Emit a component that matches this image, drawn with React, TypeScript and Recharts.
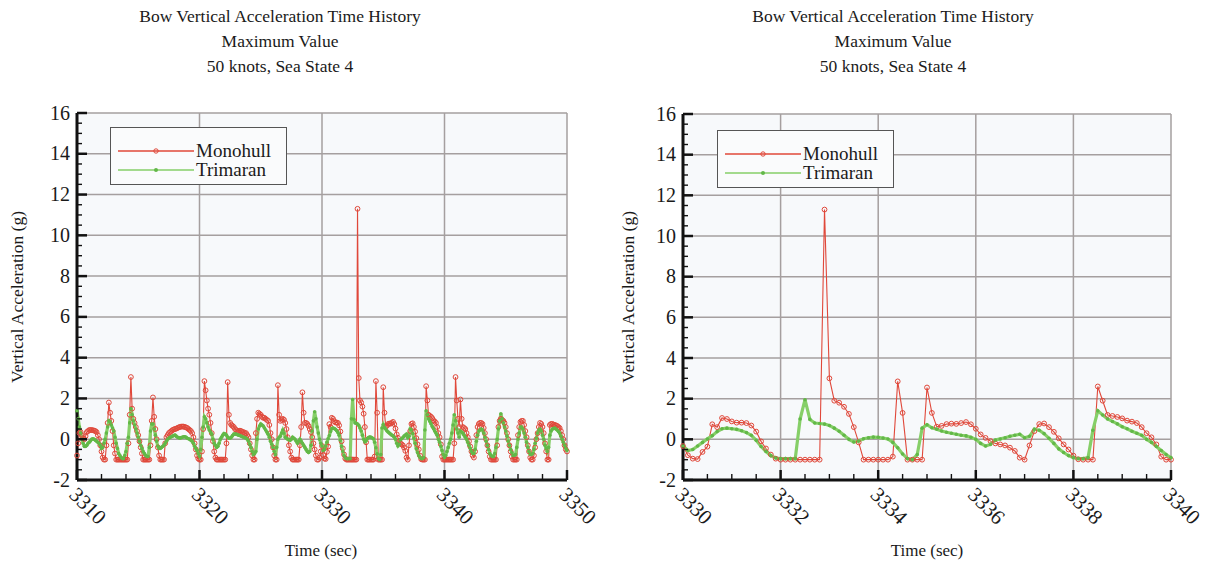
import React from "react";
import { CartesianGrid, Line, LineChart, XAxis, YAxis } from "recharts";

const FONT = '"Liberation Serif", "DejaVu Serif", serif';
const MONO_COLOR = "#e0483a";
const TRI_COLOR = "#86cf68";
const TRI_DOT = "#62b848";

// 3310.0 - 3329.9 s, sampled every 0.1 s (one row per second)
const EARLY_START = 3310;
const EARLY_STEP = 0.1;
const monohullEarly = [
  -0.8, -0.2, 0.3, 0.35, 0.2, 0.05, 0.0, 0.15, 0.35, 0.4,
  0.45, 0.45, 0.45, 0.44, 0.42, 0.4, 0.35, 0.2, 0.0, -0.3,
  -0.6, -0.9, -1.0, -1.0, -0.3, 0.8, 1.8, 1.3, 0.9, 0.4,
  -0.3, -0.7, -1.0, -1.0, -1.0, -1.0, -1.0, -1.0, -1.0, -1.0,
  -1.0, -1.0, -0.2, 1.2, 3.05, 1.5, 1.0, 0.8, 0.6, 0.4,
  0.2, -0.1, -0.4, -0.7, -1.0, -1.0, -1.0, -1.0, -1.0, -1.0,
  -0.3, 0.9, 2.05, 1.1, 0.5, 0.0, -0.4, -0.8, -1.0, -1.0,
  -1.0, -1.0, -0.2, 0.1, 0.2, 0.3, 0.35, 0.4, 0.45, 0.48,
  0.5, 0.52, 0.55, 0.58, 0.6, 0.62, 0.62, 0.62, 0.6, 0.58,
  0.55, 0.5, 0.45, 0.4, 0.3, 0.1, -0.2, -0.5, -0.8, -0.95,
  -1.0, -1.0, -0.6, 0.5, 2.85, 2.4, 1.9, 1.5, 1.2, 0.8,
  0.3, -0.1, -0.6, -0.9, -1.0, -1.0, -1.0, -1.0, -1.0, -1.0,
  -1.0, -1.0, -0.2, 2.8, 1.2, 0.8, 0.7, 0.65, 0.6, 0.5,
  0.45, 0.4, 0.4, 0.42, 0.4, 0.35, 0.35, 0.3, 0.3, 0.2,
  0.1, -0.2, -0.5, -0.8, -1.0, -1.0, 0.3, 1.0, 1.3, 1.25,
  1.2, 1.1, 1.05, 1.05, 1.0, 0.95, 0.9, 0.7, 0.3, 0.0,
  -0.4, -0.8, -1.0, -1.0, 2.65, 1.2, 0.9, 0.95, 1.0, 0.95,
  0.8, 0.5, 0.1, -0.3, -0.6, -0.9, -1.0, -1.0, -1.0, -1.0,
  -1.0, -1.0, -0.3, 0.6, 2.3, 1.3, 0.8, 0.8, 0.75, 0.65,
  0.5, 0.35, 0.1, -0.2, -0.5, -0.8, -1.0, -1.0, -0.9, -0.6,
];
const trimaranEarly = [
  1.4, 1.0, 0.6, 0.3, 0.0, -0.2, -0.35, -0.35, -0.3, -0.2,
  -0.15, -0.08, 0.0, 0.02, 0.0, -0.05, -0.1, -0.15, -0.2, -0.3,
  -0.45, -0.4, -0.2, 0.0, 0.3, 0.6, 0.9, 0.85, 0.7, 0.55,
  0.4, 0.1, -0.2, -0.45, -0.7, -0.8, -0.9, -0.95, -0.95, -0.8,
  -0.6, -0.2, 0.1, 0.8, 1.5, 1.2, 0.9, 0.7, 0.5, 0.3,
  0.1, -0.1, -0.3, -0.45, -0.6, -0.7, -0.8, -0.85, -0.85, -0.4,
  0.4, 0.75, 0.75, 0.5, 0.2, -0.1, -0.35, -0.45, -0.45, -0.4,
  -0.35, -0.3, -0.2, -0.1, 0.0, 0.05, 0.1, 0.12, 0.15, 0.18,
  0.2, 0.15, 0.1, 0.08, 0.05, 0.08, 0.1, 0.12, 0.12, 0.1,
  0.05, 0.02, 0.0, -0.05, -0.1, -0.2, -0.35, -0.45, -0.55, -0.7,
  -0.85, -0.5, 0.1, 0.6, 1.1, 1.0, 0.8, 0.6, 0.45, 0.35,
  0.25, 0.0, -0.2, -0.3, -0.4, -0.35, -0.2, 0.0, 0.1, 0.2,
  0.28, 0.25, 0.2, 0.1, 0.05, 0.05, 0.1, 0.18, 0.25, 0.25,
  0.25, 0.22, 0.2, 0.18, 0.15, 0.12, 0.1, 0.08, 0.05, 0.0,
  -0.1, -0.25, -0.4, -0.6, -0.75, -0.7, -0.6, 0.0, 0.5, 0.65,
  0.75, 0.7, 0.65, 0.55, 0.45, 0.35, 0.25, 0.1, -0.1, -0.25,
  -0.4, -0.6, -0.75, -0.4, 0.0, 0.1, 0.15, 0.3, 0.45, 0.3,
  0.1, 0.05, 0.0, -0.02, -0.05, 0.0, 0.1, 0.05, 0.0, -0.1,
  -0.2, -0.1, 0.0, -0.1, -0.2, -0.3, -0.4, -0.5, -0.6, -0.65,
  -0.6, -0.3, 0.4, 0.9, 1.35, 1.0, 0.6, 0.3, 0.0, -0.2,
];

// 3330.0 - 3340.0 s, sampled every 0.1 s
const ZOOM_START = 3330;
const ZOOM_STEP = 0.1;
const monohullZoom = [
  -0.33, -0.78, -0.95, -0.97, -0.62, -0.36, 0.74, 0.6, 1.05, 1.0,
  0.88, 0.82, 0.82, 0.8, 0.68, 0.38, -0.1, -0.45, -0.75, -0.95,
  -1.0, -1.0, -1.0, -1.0, -1.0, -1.0, -1.0, -1.0, -1.0, 11.3,
  3.0, 1.9, 1.8, 1.6, 1.25, 0.6, -0.15, -1.0, -1.0, -1.0,
  -1.0, -1.0, -1.0, -0.85, 2.85, 1.3, -1.0, -1.0, -1.0, -1.0,
  2.55, 1.3, 0.62, 0.66, 0.75, 0.77, 0.76, 0.8, 0.85, 0.74,
  0.52, 0.24, 0.07, -0.08, -0.2, -0.25, -0.3, -0.41, -0.57, -0.9,
  -1.0, -0.3, 0.4, 0.75, 0.78, 0.6, 0.37, 0.05, -0.25, -0.5,
  -0.8, -0.98, -1.0, -1.0, -1.0, 2.6, 1.9, 1.2, 1.15, 1.1,
  1.03, 0.92, 0.87, 0.8, 0.6, 0.3, 0.1, -0.25, -0.85, -1.0,
  -1.0,
];
const trimaranZoom = [
  -0.33, -0.55, -0.5, -0.33, -0.15, 0.02, 0.18, 0.38, 0.52, 0.55,
  0.52, 0.49, 0.42, 0.33, 0.2, -0.05, -0.35, -0.6, -0.8, -0.92,
  -0.95, -0.95, -0.95, -0.95, 1.0, 1.95, 0.98, 0.8, 0.78, 0.75,
  0.68, 0.55, 0.4, 0.2, 0.0, -0.13, -0.08, 0.03, 0.08, 0.11,
  0.1, 0.06, 0.02, -0.15, -0.42, -0.72, -0.95, -1.0, -0.75, 0.55,
  0.72, 0.57, 0.5, 0.41, 0.35, 0.3, 0.25, 0.2, 0.17, 0.1,
  0.0, -0.2, -0.33, -0.25, -0.03, 0.02, 0.08, 0.15, 0.2, 0.25,
  0.08, 0.15, 0.5, 0.45, 0.28, 0.05, -0.2, -0.47, -0.65, -0.8,
  -0.9, -0.95, -0.95, -0.9, 0.45, 1.4, 1.2, 1.0, 0.88, 0.76,
  0.62, 0.52, 0.4, 0.3, 0.2, 0.0, -0.15, -0.35, -0.55, -0.75,
  -0.9,
];

// 3340.1 - 3350.0 s, sampled every 0.1 s
const LATE_START = 3340.1;
const LATE_STEP = 0.1;
const monohullLate = [
  -1.0, -1.0, -1.0, -1.0, -1.0, -1.0, -1.0, -0.2, 3.05,
  1.9, 1.0, 0.6, 1.95, 1.0, 0.6, 0.55, 0.5, 0.3, 0.1,
  -0.1, -0.35, -0.6, -0.8, -0.9, -0.6, 0.2, 0.6, 0.75, 0.8,
  0.8, 0.75, 0.55, 0.3, 0.0, -0.3, -0.6, -0.85, -1.0, -1.0,
  -1.0, -1.0, -1.0, -0.3, 0.6, 0.9, 1.0, 0.95, 0.9, 0.8,
  0.6, 0.3, 0.0, -0.3, -0.6, -0.85, -1.0, -1.0, -1.0, -1.0,
  0.2, 0.6, 0.85, 0.9, 0.9, 0.7, 0.4, 0.1, -0.3, -0.6,
  -0.9, -1.0, -1.0, -0.8, -0.4, 0.0, 0.3, 0.6, 0.8, 0.75,
  0.6, 0.3, -0.2, -0.6, -1.0, -1.0, 0.7, 0.75, 0.75, 0.72,
  0.7, 0.68, 0.65, 0.6, 0.55, 0.4, 0.2, 0.0, -0.3, -0.5,
  -0.6,
];
const trimaranLate = [
  -0.8, -0.6, -0.4, -0.2, 0.0, 0.3, 0.7, 1.2, 0.9,
  0.5, 0.3, 0.1, 0.4, 0.35, 0.3, 0.2, 0.1, 0.0, -0.15,
  -0.3, -0.45, -0.6, -0.7, -0.7, -0.5, -0.1, 0.2, 0.4, 0.45,
  0.5, 0.45, 0.3, 0.1, -0.1, -0.3, -0.5, -0.7, -0.8, -0.85,
  -0.85, -0.7, -0.4, 0.0, 0.5, 0.9, 1.25, 1.0, 0.8, 0.6,
  0.4, 0.15, -0.1, -0.3, -0.5, -0.65, -0.8, -0.8, -0.75, -0.4,
  0.0, 0.3, 0.6, 0.6, 0.5, 0.3, 0.1, -0.15, -0.4, -0.6,
  -0.75, -0.75, -0.7, -0.5, -0.2, 0.05, 0.3, 0.45, 0.5, 0.4,
  0.2, 0.0, -0.3, -0.45, -0.6, -0.4, 0.2, 0.4, 0.5, 0.52,
  0.55, 0.5, 0.45, 0.38, 0.3, 0.15, 0.0, -0.15, -0.3, -0.45,
  -0.55,
];

const Y_MAJOR = [-2, 0, 2, 4, 6, 8, 10, 12, 14, 16];
const WIDE_X_MAJOR = [3310, 3320, 3330, 3340, 3350];
const ZOOM_X_MAJOR = [3330, 3332, 3334, 3336, 3338, 3340];

const TITLE_LINES = [
  "Bow Vertical Acceleration Time History",
  "Maximum Value",
  "50 knots, Sea State 4",
];

const SERIES = [
  { key: "monohull", name: "Monohull", color: MONO_COLOR },
  { key: "trimaran", name: "Trimaran", color: TRI_COLOR },
];

type Row = { t: number; monohull: number; trimaran: number };

function toRows(start: number, step: number, mono: number[], tri: number[]): Row[] {
  return mono.map((m, i) => ({
    t: Math.round((start + i * step) * 100) / 100,
    monohull: m,
    trimaran: tri[i],
  }));
}

const zoomRows = toRows(ZOOM_START, ZOOM_STEP, monohullZoom, trimaranZoom);
const wideRows = [
  ...toRows(EARLY_START, EARLY_STEP, monohullEarly, trimaranEarly),
  ...zoomRows,
  ...toRows(LATE_START, LATE_STEP, monohullLate, trimaranLate),
];

// major ticks plus evenly spaced minor ticks between them
function withMinor(major: number[], parts: number) {
  const out: number[] = [];
  for (let i = 0; i < major.length - 1; i++) {
    const step = (major[i + 1] - major[i]) / parts;
    for (let k = 0; k < parts; k++) out.push(major[i] + k * step);
  }
  out.push(major[major.length - 1]);
  return out;
}

// ticks point into the plot; only majors get a label
function XTick(props: any) {
  const { x, y, payload, majors } = props;
  const major = majors.includes(payload.value);
  const lx = x - 9;
  const ly = y + 16;
  return (
    <g>
      <line x1={x} y1={y} x2={x} y2={y - (major ? 10 : 6)} stroke="#111" strokeWidth={major ? 2.5 : 1.4} />
      {major && (
        <text
          x={lx}
          y={ly}
          transform={`rotate(45 ${lx} ${ly})`}
          fontSize={21}
          fontFamily={FONT}
          fill="#1a1a1a"
          textAnchor="start"
        >
          {payload.value}
        </text>
      )}
    </g>
  );
}

function YTick(props: any) {
  const { x, y, payload, majors } = props;
  const major = majors.includes(payload.value);
  return (
    <g>
      <line x1={x} y1={y} x2={x + (major ? 10 : 5)} y2={y} stroke="#111" strokeWidth={major ? 2.5 : 1.4} />
      {major && (
        <text x={x - 7} y={y} dy="0.33em" fontSize={20} fontFamily={FONT} fill="#1a1a1a" textAnchor="end">
          {payload.value}
        </text>
      )}
    </g>
  );
}

function AccelChart({
  rows,
  xMajor,
  xParts,
  width,
  margin,
}: {
  rows: Row[];
  xMajor: number[];
  xParts: number;
  width: number;
  margin: { top: number; right: number; bottom: number; left: number };
}) {
  const xTicks = withMinor(xMajor, xParts);
  const yTicks = withMinor(Y_MAJOR, 4);
  return (
    <LineChart width={width} height={564} data={rows} margin={margin}>
      <CartesianGrid
        horizontalValues={Y_MAJOR}
        verticalValues={xMajor}
        stroke="#a59f9f"
        strokeWidth={1.5}
        fill="#f7f9fb"
      />
      <XAxis
        dataKey="t"
        type="number"
        domain={[xMajor[0], xMajor[xMajor.length - 1]]}
        ticks={xTicks}
        interval={0}
        tickSize={0}
        tickMargin={0}
        tickLine={false}
        height={40}
        axisLine={{ stroke: "#111", strokeWidth: 3 }}
        tick={(p: any) => <XTick {...p} majors={xMajor} />}
      />
      <YAxis
        type="number"
        domain={[-2, 16]}
        ticks={yTicks}
        interval={0}
        tickSize={0}
        tickMargin={0}
        tickLine={false}
        width={60}
        axisLine={{ stroke: "#111", strokeWidth: 3 }}
        tick={(p: any) => <YTick {...p} majors={Y_MAJOR} />}
      />
      <Line
        type="linear"
        dataKey="monohull"
        stroke={MONO_COLOR}
        strokeWidth={1.1}
        dot={{ r: 2.4, fill: "none", stroke: MONO_COLOR, strokeWidth: 1 }}
        activeDot={false}
        isAnimationActive={false}
      />
      <Line
        type="linear"
        dataKey="trimaran"
        stroke={TRI_COLOR}
        strokeWidth={3.2}
        dot={{ r: 1.8, fill: TRI_DOT, stroke: "none" }}
        activeDot={false}
        isAnimationActive={false}
      />
    </LineChart>
  );
}

function LegendBox({ left, top }: { left: number; top: number }) {
  return (
    <div
      style={{
        position: "absolute",
        left,
        top,
        width: 177,
        height: 58,
        border: "1.5px solid #555",
        background: "#fafbfc",
        boxSizing: "border-box",
      }}
    >
      {SERIES.map((s, i) => (
        <div
          key={s.key}
          style={{ position: "absolute", left: 7, top: 13 + i * 19, height: 19, display: "flex", alignItems: "center" }}
        >
          <svg width={76} height={10} style={{ display: "block" }}>
            <line x1={0} y1={5} x2={76} y2={5} stroke={s.color} strokeWidth={1.4} />
            {s.key === "monohull" ? (
              <circle cx={38} cy={5} r={2.2} fill="none" stroke={s.color} strokeWidth={1} />
            ) : (
              <circle cx={38} cy={5} r={2} fill={TRI_DOT} />
            )}
          </svg>
          <span style={{ fontSize: 19, lineHeight: "19px", marginLeft: 2 }}>{s.name}</span>
        </div>
      ))}
    </div>
  );
}

function Title({ cx }: { cx: number }) {
  return (
    <div
      style={{
        position: "absolute",
        left: cx - 200,
        top: 4,
        width: 400,
        textAlign: "center",
        fontSize: 17.5,
        lineHeight: "25px",
      }}
    >
      {TITLE_LINES.map((l) => (
        <div key={l}>{l}</div>
      ))}
    </div>
  );
}

function AxisTitles({ yx, xx }: { yx: number; xx: number }) {
  return (
    <>
      <div
        style={{
          position: "absolute",
          left: yx,
          top: 297,
          transform: "translate(-50%, -50%) rotate(-90deg)",
          whiteSpace: "nowrap",
          fontSize: 17.5,
        }}
      >
        Vertical Acceleration (g)
      </div>
      <div
        style={{
          position: "absolute",
          left: xx,
          top: 551,
          transform: "translate(-50%, -50%)",
          whiteSpace: "nowrap",
          fontSize: 17,
        }}
      >
        Time (sec)
      </div>
    </>
  );
}

export default function App() {
  return (
    <div
      style={{
        position: "fixed",
        left: 0,
        top: 0,
        width: 1216,
        height: 564,
        background: "#fff",
        fontFamily: FONT,
        color: "#1a1a1a",
        overflow: "hidden",
      }}
    >
      <div style={{ position: "absolute", left: 0, top: 0 }}>
        <AccelChart
          rows={wideRows}
          xMajor={WIDE_X_MAJOR}
          xParts={5}
          width={600}
          margin={{ top: 113, right: 33, bottom: 44, left: 17 }}
        />
      </div>
      <div style={{ position: "absolute", left: 600, top: 0 }}>
        <AccelChart
          rows={zoomRows}
          xMajor={ZOOM_X_MAJOR}
          xParts={4}
          width={616}
          margin={{ top: 114, right: 45, bottom: 44, left: 23 }}
        />
      </div>
      <Title cx={280} />
      <Title cx={893} />
      <AxisTitles yx={17} xx={321} />
      <AxisTitles yx={628} xx={927} />
      <LegendBox left={110} top={127} />
      <LegendBox left={717} top={130} />
    </div>
  );
}
